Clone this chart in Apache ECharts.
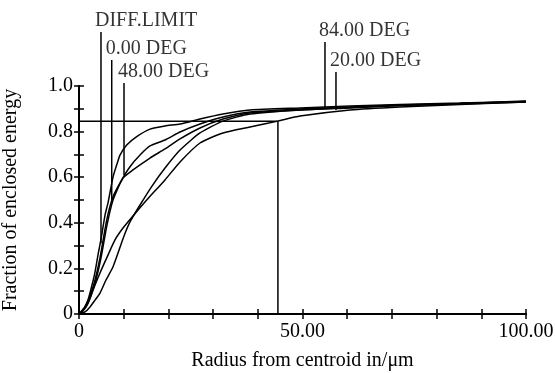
<!DOCTYPE html>
<html><head><meta charset="utf-8">
<script src="https://cdn.jsdelivr.net/npm/echarts@6/dist/echarts.min.js"></script>
<style>html,body{margin:0;padding:0;background:#fff}#c{width:555px;height:373px}</style>
</head><body><div id="c"></div>
<script>
// Encircled-energy curves: [radius µm, fraction]
const diffLimit = [[0,0],[1.12,0.026],[2.01,0.061],[2.91,0.127],[3.58,0.184],[4.25,0.259],[5.08,0.346],[5.82,0.434],[6.49,0.487],[7.61,0.601],[8.50,0.658],[9.17,0.697],[10.67,0.741],[12.91,0.778],[15.88,0.811],[19.24,0.825],[22.6,0.833],[27.07,0.855],[32.21,0.877],[38.26,0.895],[49.44,0.904],[60.63,0.912],[71.81,0.919],[85.23,0.925],[100,0.934]];
const deg0 = [[0,0],[1.34,0.031],[2.46,0.079],[3.58,0.149],[4.70,0.246],[6.20,0.412],[7.61,0.514],[9.55,0.588],[11.41,0.646],[13.65,0.697],[15.88,0.737],[19.24,0.763],[22.6,0.798],[27.07,0.833],[32.21,0.864],[38.26,0.886],[49.44,0.899],[60.63,0.908],[71.81,0.917],[85.23,0.923],[100,0.932]];
const deg48 = [[0,0],[1.57,0.031],[2.68,0.079],[3.80,0.149],[4.92,0.246],[6.26,0.390],[7.61,0.500],[9.84,0.596],[12.08,0.632],[15.88,0.684],[19.24,0.724],[22.6,0.768],[27.07,0.816],[32.21,0.855],[38.26,0.882],[49.44,0.895],[60.63,0.906],[71.81,0.915],[85.23,0.923],[100,0.932]];
const deg84 = [[0,0],[1.34,0.009],[2.46,0.031],[3.58,0.061],[4.70,0.092],[6.04,0.149],[7.61,0.207],[10.07,0.342],[11.41,0.404],[13.65,0.478],[16.33,0.561],[19.24,0.640],[22.6,0.719],[27.07,0.794],[32.21,0.846],[38.26,0.877],[49.44,0.895],[60.63,0.904],[71.81,0.914],[85.23,0.921],[100,0.930]];
const deg20 = [[0,0],[0.89,0.013],[2.01,0.048],[3.13,0.105],[4.70,0.180],[6.20,0.246],[8.05,0.325],[9.84,0.377],[12.08,0.430],[15.15,0.500],[19.24,0.588],[22.6,0.667],[27.07,0.750],[32.21,0.794],[38.26,0.820],[44.5,0.846],[49.44,0.868],[60.63,0.895],[71.81,0.908],[85.23,0.919],[100,0.930]];
// crosshair marker at the worst curve's level
const markerPath = [[0,0.845],[44.5,0.845],[44.5,0]];
// curve annotations (leader lines)
const annotationNames = ['DIFF.LIMIT','0.00 DEG','48.00 DEG','84.00 DEG','20.00 DEG'];
const annotationX = [4.92, 7.32, 10.07, 55.03, 57.49];
const annotationTop = [1.237, 1.114, 1.013, 1.193, 1.061];
const annotationEnd = [0.31, 0.50, 0.61, 0.904, 0.895];
// tick labels
const xLabelValues = [0, 50, 100];
const xLabelTexts = ['0', '50.00', '100.00'];
const yLabelValues = [0, 0.2, 0.4, 0.6, 0.8, 1.0];
const yLabelTexts = ['0', '0.2', '0.4', '0.6', '0.8', '1.0'];

const FONT = "'Liberation Serif','Times New Roman',serif";
const black = '#000';
function lookup(values, texts, v) {
  for (let i = 0; i < values.length; i++) if (Math.abs(values[i] - v) < 1e-6) return texts[i];
  return '';
}
const curveStyle = {color: black, width: 1.5};
function curve(name, data) {
  return {name, type: 'line', data, showSymbol: false, symbol: 'none', smooth: 0.2,
    lineStyle: curveStyle, silent: true, z: 3};
}
const series = [
  curve('DIFF.LIMIT', diffLimit),
  curve('0.00 DEG', deg0),
  curve('48.00 DEG', deg48),
  curve('84.00 DEG', deg84),
  curve('20.00 DEG', deg20),
  {type: 'line', data: markerPath, showSymbol: false, symbol: 'none',
   lineStyle: {color: black, width: 1.5}, z: 2}
];
annotationNames.forEach((n, i) => {
  series.push({type: 'line', data: [[annotationX[i], annotationTop[i]], [annotationX[i], annotationEnd[i]]],
    showSymbol: false, symbol: 'none', clip: false, lineStyle: {color: black, width: 1.5}, z: 4});
});
series.push({type: 'scatter', clip: false, symbolSize: 1, itemStyle: {color: 'rgba(0,0,0,0)'},
  data: annotationNames.map((n, i) => ({name: n, value: [annotationX[i], annotationTop[i]]})),
  label: {show: true, position: 'top', align: 'left', offset: [-6, 0], distance: 1,
    formatter: '{b}', color: black, fontSize: 20, fontFamily: FONT}, z: 5});

const axisLine = {show: true, lineStyle: {color: black, width: 2}};
const axisTick = {show: true, inside: true, length: 5, lineStyle: {color: black, width: 1.5}};
const option = {
  animation: false,
  backgroundColor: '#fff',
  grid: {left: 79, right: 29, top: 86, bottom: 59, containLabel: false, outerBoundsMode: 'none'},
  xAxis: [
    {type: 'value', min: 0, max: 100, interval: 10, position: 'bottom',
     axisLine, axisTick, splitLine: {show: false},
     axisLabel: {color: black, fontSize: 20, fontFamily: FONT, margin: 8,
       formatter: v => lookup(xLabelValues, xLabelTexts, v)},
     name: 'Radius from centroid in/\u03bcm', nameLocation: 'middle', nameGap: 37,
     nameTextStyle: {color: black, fontSize: 20, fontFamily: FONT}},
    {type: 'value', min: 0, max: 100, interval: 10, position: 'top',
     axisLine, axisTick, splitLine: {show: false}, axisLabel: {show: false}}
  ],
  yAxis: [
    {type: 'value', min: 0, max: 1, interval: 0.1, position: 'left',
     axisLine, axisTick, splitLine: {show: false},
     axisLabel: {color: black, fontSize: 20, fontFamily: FONT, margin: 6,
       formatter: v => lookup(yLabelValues, yLabelTexts, v)},
     name: 'Fraction of enclosed energy', nameLocation: 'middle', nameGap: 58,
     nameTextStyle: {color: black, fontSize: 20, fontFamily: FONT}},
    {type: 'value', min: 0, max: 1, interval: 0.1, position: 'right',
     axisLine, axisTick, splitLine: {show: false}, axisLabel: {show: false}}
  ],
  series
};
const chart = echarts.init(document.getElementById('c'), null, {renderer: 'canvas'});
chart.setOption(option);
</script></body></html>
